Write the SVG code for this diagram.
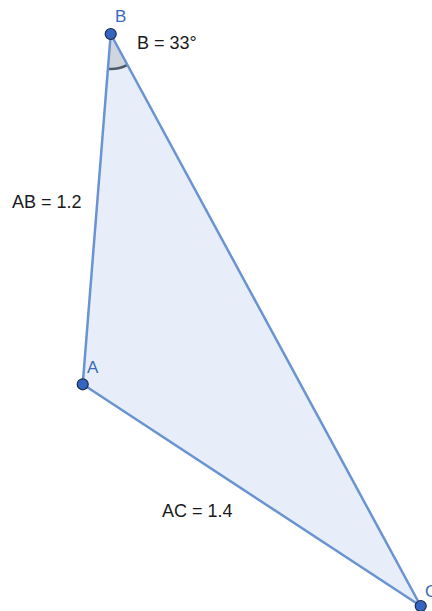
<svg xmlns="http://www.w3.org/2000/svg" width="432" height="611" viewBox="0 0 432 611">
<style>
.seg{stroke:#6a93d2;stroke-width:2.5;fill:none;stroke-linecap:round}
.pt{fill:#3565c0;stroke:#1a2a4a;stroke-width:1.2}
.lbl{font-family:"Liberation Sans",Arial,sans-serif;fill:#3b68b8;font-size:17px}
.txt{font-family:"Liberation Sans",Arial,sans-serif;fill:#1a1a1a;font-size:18px}
</style>
<rect width="432" height="611" fill="#ffffff"/>
<g id="triangle">
<polygon points="110.7,34 82.7,384.3 420.7,606" fill="#e7eef9" stroke="none"/>
</g>
<g id="angleB">
<path d="M110.7,34 L107.9,68.9 A35,35 0 0 0 127.4,64.8 Z" fill="#c9cfd9" fill-opacity="0.8" stroke="none"/>
<path d="M107.9,68.9 A35,35 0 0 0 127.4,64.8" fill="none" stroke="#4d5a6a" stroke-width="2.5"/>
</g>
<g id="connectors">
<line class="seg" x1="110.7" y1="34" x2="82.7" y2="384.3"/>
<line class="seg" x1="82.7" y1="384.3" x2="420.7" y2="606"/>
<line class="seg" x1="110.7" y1="34" x2="420.7" y2="606"/>
</g>
<g id="nodeB">
<circle class="pt" cx="110.7" cy="34" r="5.5"/>
<text class="lbl" x="115" y="22">B</text>
</g>
<g id="nodeA">
<circle class="pt" cx="82.7" cy="384.3" r="5.5"/>
<text class="lbl" x="87" y="373">A</text>
</g>
<g id="nodeC">
<circle class="pt" cx="420.7" cy="606" r="5.5"/>
<text class="lbl" x="425" y="597">C</text>
</g>
<g id="labels">
<text class="txt" x="137" y="49">B = 33°</text>
<text class="txt" x="12" y="208">AB = 1.2</text>
<text class="txt" x="162" y="517">AC = 1.4</text>
</g>
</svg>
